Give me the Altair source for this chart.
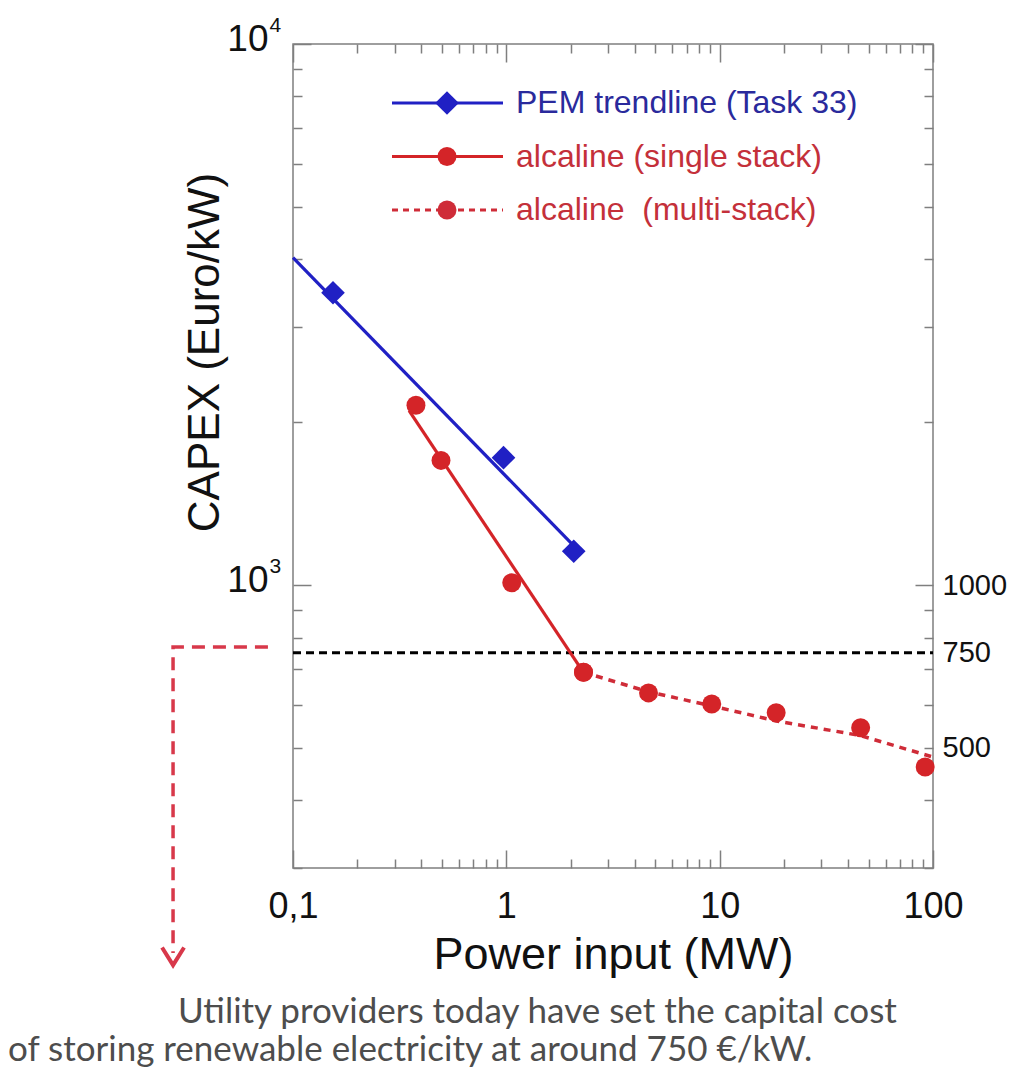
import altair as alt
import pandas as pd

# ---------------- data ----------------
pem_x = [0.154, 0.97, 2.07]
pem_y = [3470, 1720, 1155]
pem_fit_x = [0.1, 2.1]
pem_fit_y = [4030, 1175]

single_x = [0.377, 0.494, 1.06, 2.30]
single_y = [2150, 1700, 1010, 690]
single_fit_x = [0.35, 2.29]
single_fit_y = [2100, 691]

multi_x = [2.30, 4.64, 9.18, 18.4, 45.8, 91.9]
multi_y = [690, 632, 603, 581, 545, 461]
multi_fit_x = [2.30, 4.64, 9.18, 18.4, 45.8, 100]
multi_fit_y = [690, 635, 598, 561, 527, 481]

target_x = [0.1, 100]
target_y = [750, 750]

arrow_x = [0.0763, 0.0274, 0.0274]
arrow_y = [768, 768, 209]
arrow_head_x = [0.0274]
arrow_head_y = [206]

x_major = [0.1, 1, 10, 100]
x_major_labels = ["0,1", "1", "10", "100"]
x_minor = [0.2, 0.3, 0.4, 0.5, 0.6, 0.7, 0.8, 0.9,
           2, 3, 4, 5, 6, 7, 8, 9,
           20, 30, 40, 50, 60, 70, 80, 90]
y_major = [1000, 10000]
y_major_base = ["10", "10"]
y_major_exp = ["3", "4"]
y_minor = [300, 400, 500, 600, 700, 800, 900,
           2000, 3000, 4000, 5000, 6000, 7000, 8000, 9000]
y_right_values = [1000, 750, 500]
y_right_labels = ["1000", "750", "500"]

legend_labels = ["PEM trendline (Task 33)", "alcaline (single stack)", "alcaline\u00a0 (multi-stack)"]
caption_lines = ["Utility providers today have set the capital cost",
                 "of storing renewable electricity at around 750 €/kW."]

# ---------------- styles ----------------
FONT = "Liberation Sans, Arial, sans-serif"
CAP_FONT = "Lato, Open Sans, sans-serif"
BLUE = "#2020c4"
RED = "#d42428"
RED_DOT = "#cf2c38"
ARROW = "#d8384a"
FRAME = "#7f7f7f"
W, H = 640, 824


def label_expr(values, labels):
    expr = "''"
    for v, l in reversed(list(zip(values, labels))):
        expr = f"abs(datum.value - {v}) < {v * 1e-6} ? '{l}' : ({expr})"
    return expr


xs = alt.Scale(type="log", domain=[0.1, 100], nice=False)
ys = alt.Scale(type="log", domain=[300, 10000], nice=False)


def X(ax):
    return alt.X("x:Q", scale=xs, axis=ax)


def Y(ax):
    return alt.Y("y:Q", scale=ys, axis=ax)


def df(a, b):
    return pd.DataFrame({"x": a, "y": b})


common = dict(grid=False, domain=False, labelFlush=False, labelOverlap=False)

ax_bottom_major = alt.Axis(orient="bottom", values=x_major, offset=-18, tickSize=18,
                           labelExpr=label_expr(x_major, x_major_labels),
                           labelFontSize=36, labelPadding=49, labelBaseline="alphabetic",
                           labelAlign="center",
                           title="Power input (MW)", titleFontSize=45, titleFontWeight="normal",
                           titleY=118, titleBaseline="alphabetic", **common)
ax_bottom_minor = alt.Axis(orient="bottom", values=x_minor, offset=-9, tickSize=9,
                           labels=False, title=None, **common)
ax_top_major = alt.Axis(orient="top", values=x_major, offset=-18, tickSize=18,
                        labels=False, title=None, **common)
ax_top_minor = alt.Axis(orient="top", values=x_minor, offset=-9, tickSize=9,
                        labels=False, title=None, **common)
ax_left_major = alt.Axis(orient="left", values=y_major, offset=-18, tickSize=18,
                         labelExpr=label_expr(y_major, y_major_base),
                         labelFontSize=37, labelPadding=25, labelBaseline="middle",
                         labelAlign="right", labelOffset=-5,
                         title="CAPEX (Euro/kW)", titleFontSize=44, titleFontWeight="normal",
                         titleX=-93, titleY=308, titleAngle=270, titleBaseline="alphabetic",
                         titleAlign="center", **common)
ax_left_exp = alt.Axis(orient="left", values=y_major, offset=0, tickSize=0, tickOpacity=0,
                       labelExpr=label_expr(y_major, y_major_exp),
                       labelFontSize=21, labelPadding=24, labelBaseline="middle",
                       labelAlign="left", labelOffset=-19, title=None, **common)
ax_left_minor = alt.Axis(orient="left", values=y_minor, offset=-9, tickSize=9,
                         labels=False, title=None, **common)
ax_right_major = alt.Axis(orient="right", values=y_major, offset=-18, tickSize=18,
                          labels=False, title=None, **common)
ax_right_minor = alt.Axis(orient="right", values=y_minor, offset=-9, tickSize=9,
                          labels=False, title=None, **common)
ax_right_labels = alt.Axis(orient="right", values=y_right_values, offset=0, tickSize=0,
                           tickOpacity=0, labelExpr=label_expr(y_right_values, y_right_labels),
                           labelFontSize=29, labelPadding=9, labelBaseline="middle",
                           labelAlign="left", title=None, **common)

layers = []

layers.append(alt.Chart(df(target_x, target_y)).mark_line(
    color="black", strokeWidth=3, strokeDash=[8, 5]).encode(x=X(None), y=Y(None)))

layers.append(alt.Chart(df(pem_fit_x, pem_fit_y)).mark_line(
    color=BLUE, strokeWidth=3.2).encode(x=X(ax_bottom_major), y=Y(ax_left_major)))

layers.append(alt.Chart(df(single_fit_x, single_fit_y)).mark_line(
    color=RED, strokeWidth=3.2).encode(x=X(ax_top_major), y=Y(ax_right_major)))

layers.append(alt.Chart(df(multi_fit_x, multi_fit_y)).mark_line(
    color=RED_DOT, strokeWidth=3.5, strokeDash=[7, 6]).encode(x=X(ax_bottom_minor), y=Y(ax_right_labels)))

layers.append(alt.Chart(df(pem_x, pem_y)).mark_point(
    shape="diamond", filled=True, size=560, color=BLUE, opacity=1).encode(x=X(ax_top_minor), y=Y(ax_left_minor)))

layers.append(alt.Chart(df(single_x, single_y)).mark_circle(
    size=360, color=RED, opacity=1).encode(x=X(None), y=Y(ax_right_minor)))

layers.append(alt.Chart(df(multi_x, multi_y)).mark_circle(
    size=360, color=RED, opacity=1).encode(x=X(None), y=Y(ax_left_exp)))

arrow_df = df(arrow_x, arrow_y)
arrow_df["i"] = range(len(arrow_df))
layers.append(alt.Chart(arrow_df).mark_line(
    color=ARROW, strokeWidth=3.5, strokeDash=[13, 8]).encode(x=X(None), y=Y(None), order="i:Q"))

layers.append(alt.Chart(df(arrow_head_x, arrow_head_y)).mark_point(
    shape="M-1,-0.8L0,0.8L1,-0.8", filled=False, size=484, color=ARROW,
    strokeWidth=4, opacity=1).encode(x=X(None), y=Y(None)))

# ---------------- legend (manual, inside the plot) ----------------
leg_line_colors = [BLUE, RED, RED_DOT]
leg_text_colors = ["#2a2a9c", "#c4303a", "#c4303a"]
leg_dash = [None, None, [6, 5]]
leg_shape = ["diamond", "circle", "circle"]
leg_size = [560, 360, 360]
leg_y0, leg_dy = 59, 53.5
for i, lab in enumerate(legend_labels):
    ry = leg_y0 + i * leg_dy
    one = alt.Data(values=[{"t": lab}])
    rule_kw = dict(color=leg_line_colors[i], strokeWidth=3)
    if leg_dash[i]:
        rule_kw["strokeDash"] = leg_dash[i]
    layers.append(alt.Chart(one).mark_rule(**rule_kw).encode(
        x=alt.value(99), x2=alt.value(210), y=alt.value(ry)))
    layers.append(alt.Chart(one).mark_point(
        shape=leg_shape[i], filled=True, size=leg_size[i], color=leg_line_colors[i], opacity=1).encode(
        x=alt.value(154), y=alt.value(ry)))
    layers.append(alt.Chart(one).mark_text(
        align="left", baseline="middle", fontSize=32, font=FONT, color=leg_text_colors[i]).encode(
        x=alt.value(223), y=alt.value(ry), text="t:N"))

# ---------------- caption below the chart ----------------
cap_x = [-115, -285]
cap_y = [979, 1017]
for i, line in enumerate(caption_lines):
    layers.append(alt.Chart(alt.Data(values=[{"t": line}])).mark_text(
        align="left", baseline="alphabetic", fontSize=35, font=CAP_FONT, color="#4d4d4d").encode(
        x=alt.value(cap_x[i]), y=alt.value(cap_y[i]), text="t:N"))

chart = alt.layer(*layers).resolve_axis(x="independent", y="independent").properties(
    width=W, height=H,
    autosize=alt.AutoSizeParams(type="none"),
    padding={"left": 285, "top": 36, "right": 74, "bottom": 202},
).configure_view(stroke=FRAME, strokeWidth=1.5).configure_axis(
    grid=False, domain=False, tickColor=FRAME, tickWidth=1.5,
    labelFont=FONT, titleFont=FONT, labelColor="#111111", titleColor="#111111")

chart.save("out.html", embed_options={"renderer": "svg", "actions": False})
